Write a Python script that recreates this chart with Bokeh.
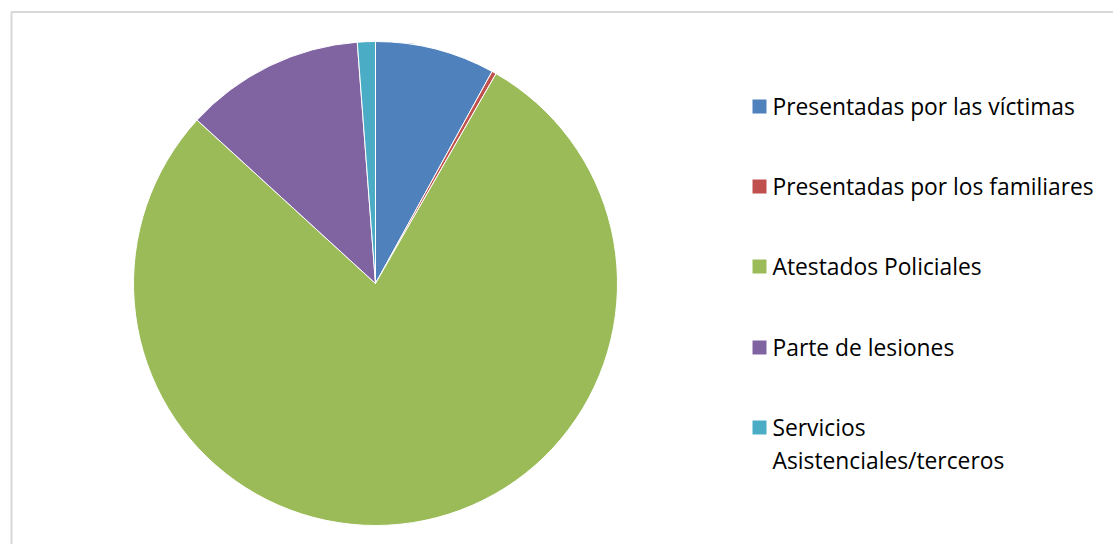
import numpy as np
from bokeh.plotting import figure
from bokeh.models import ColumnDataSource, BoxAnnotation
from bokeh.core.properties import value
from bokeh.embed import file_html
from bokeh.resources import INLINE

categories = ["Presentadas por las víctimas", "Presentadas por los familiares",
              "Atestados Policiales", "Parte de lesiones",
              "Servicios\nAsistenciales/terceros"]
values = [8.0, 0.3, 78.5, 12.0, 1.2]
colors = ["#4F81BD", "#C0504D", "#9BBB59", "#8064A2", "#4BACC6"]

W, H = 1113, 544
p = figure(width=W, height=H, x_range=(0, W), y_range=(0, H),
           output_backend="svg", toolbar_location=None, min_border=0)
p.axis.visible = False
p.grid.visible = False
p.outline_line_color = None

frac = np.array(values) / sum(values)
ang = np.concatenate([[0], np.cumsum(frac)]) * 2 * np.pi
start = np.pi / 2 - ang[:-1]
end = np.pi / 2 - ang[1:]
src = ColumnDataSource(dict(start=start, end=end, color=colors))
cx, cy, r = 375, H - 283, 242
p.wedge(x=cx, y=cy, radius=r, start_angle="start", end_angle="end",
        direction="clock", fill_color="color", line_color="white",
        line_width=1, source=src)

# border
p.add_layout(BoxAnnotation(left=11, right=W + 5, bottom=-5, top=H - 11.5,
                           fill_alpha=0, line_color="#7f7f7f", line_width=2))

# legend
rows_y = [106, 186, 266, 347, 427]
lx = 759
p.rect(x=[lx] * 5, y=[H - y for y in rows_y], width=14, height=14,
       fill_color=colors, line_color=None)
for i, (cat, y) in enumerate(zip(categories, rows_y)):
    lines = cat.split("\n")
    for j, t in enumerate(lines):
        p.text(x=[772], y=[H - y - j * 33], text=[t], text_font=value("Open Sans"),
               text_font_size="22.8px", text_baseline="middle", text_color="#000000")

open("out.html", "w").write(file_html(p, INLINE))
